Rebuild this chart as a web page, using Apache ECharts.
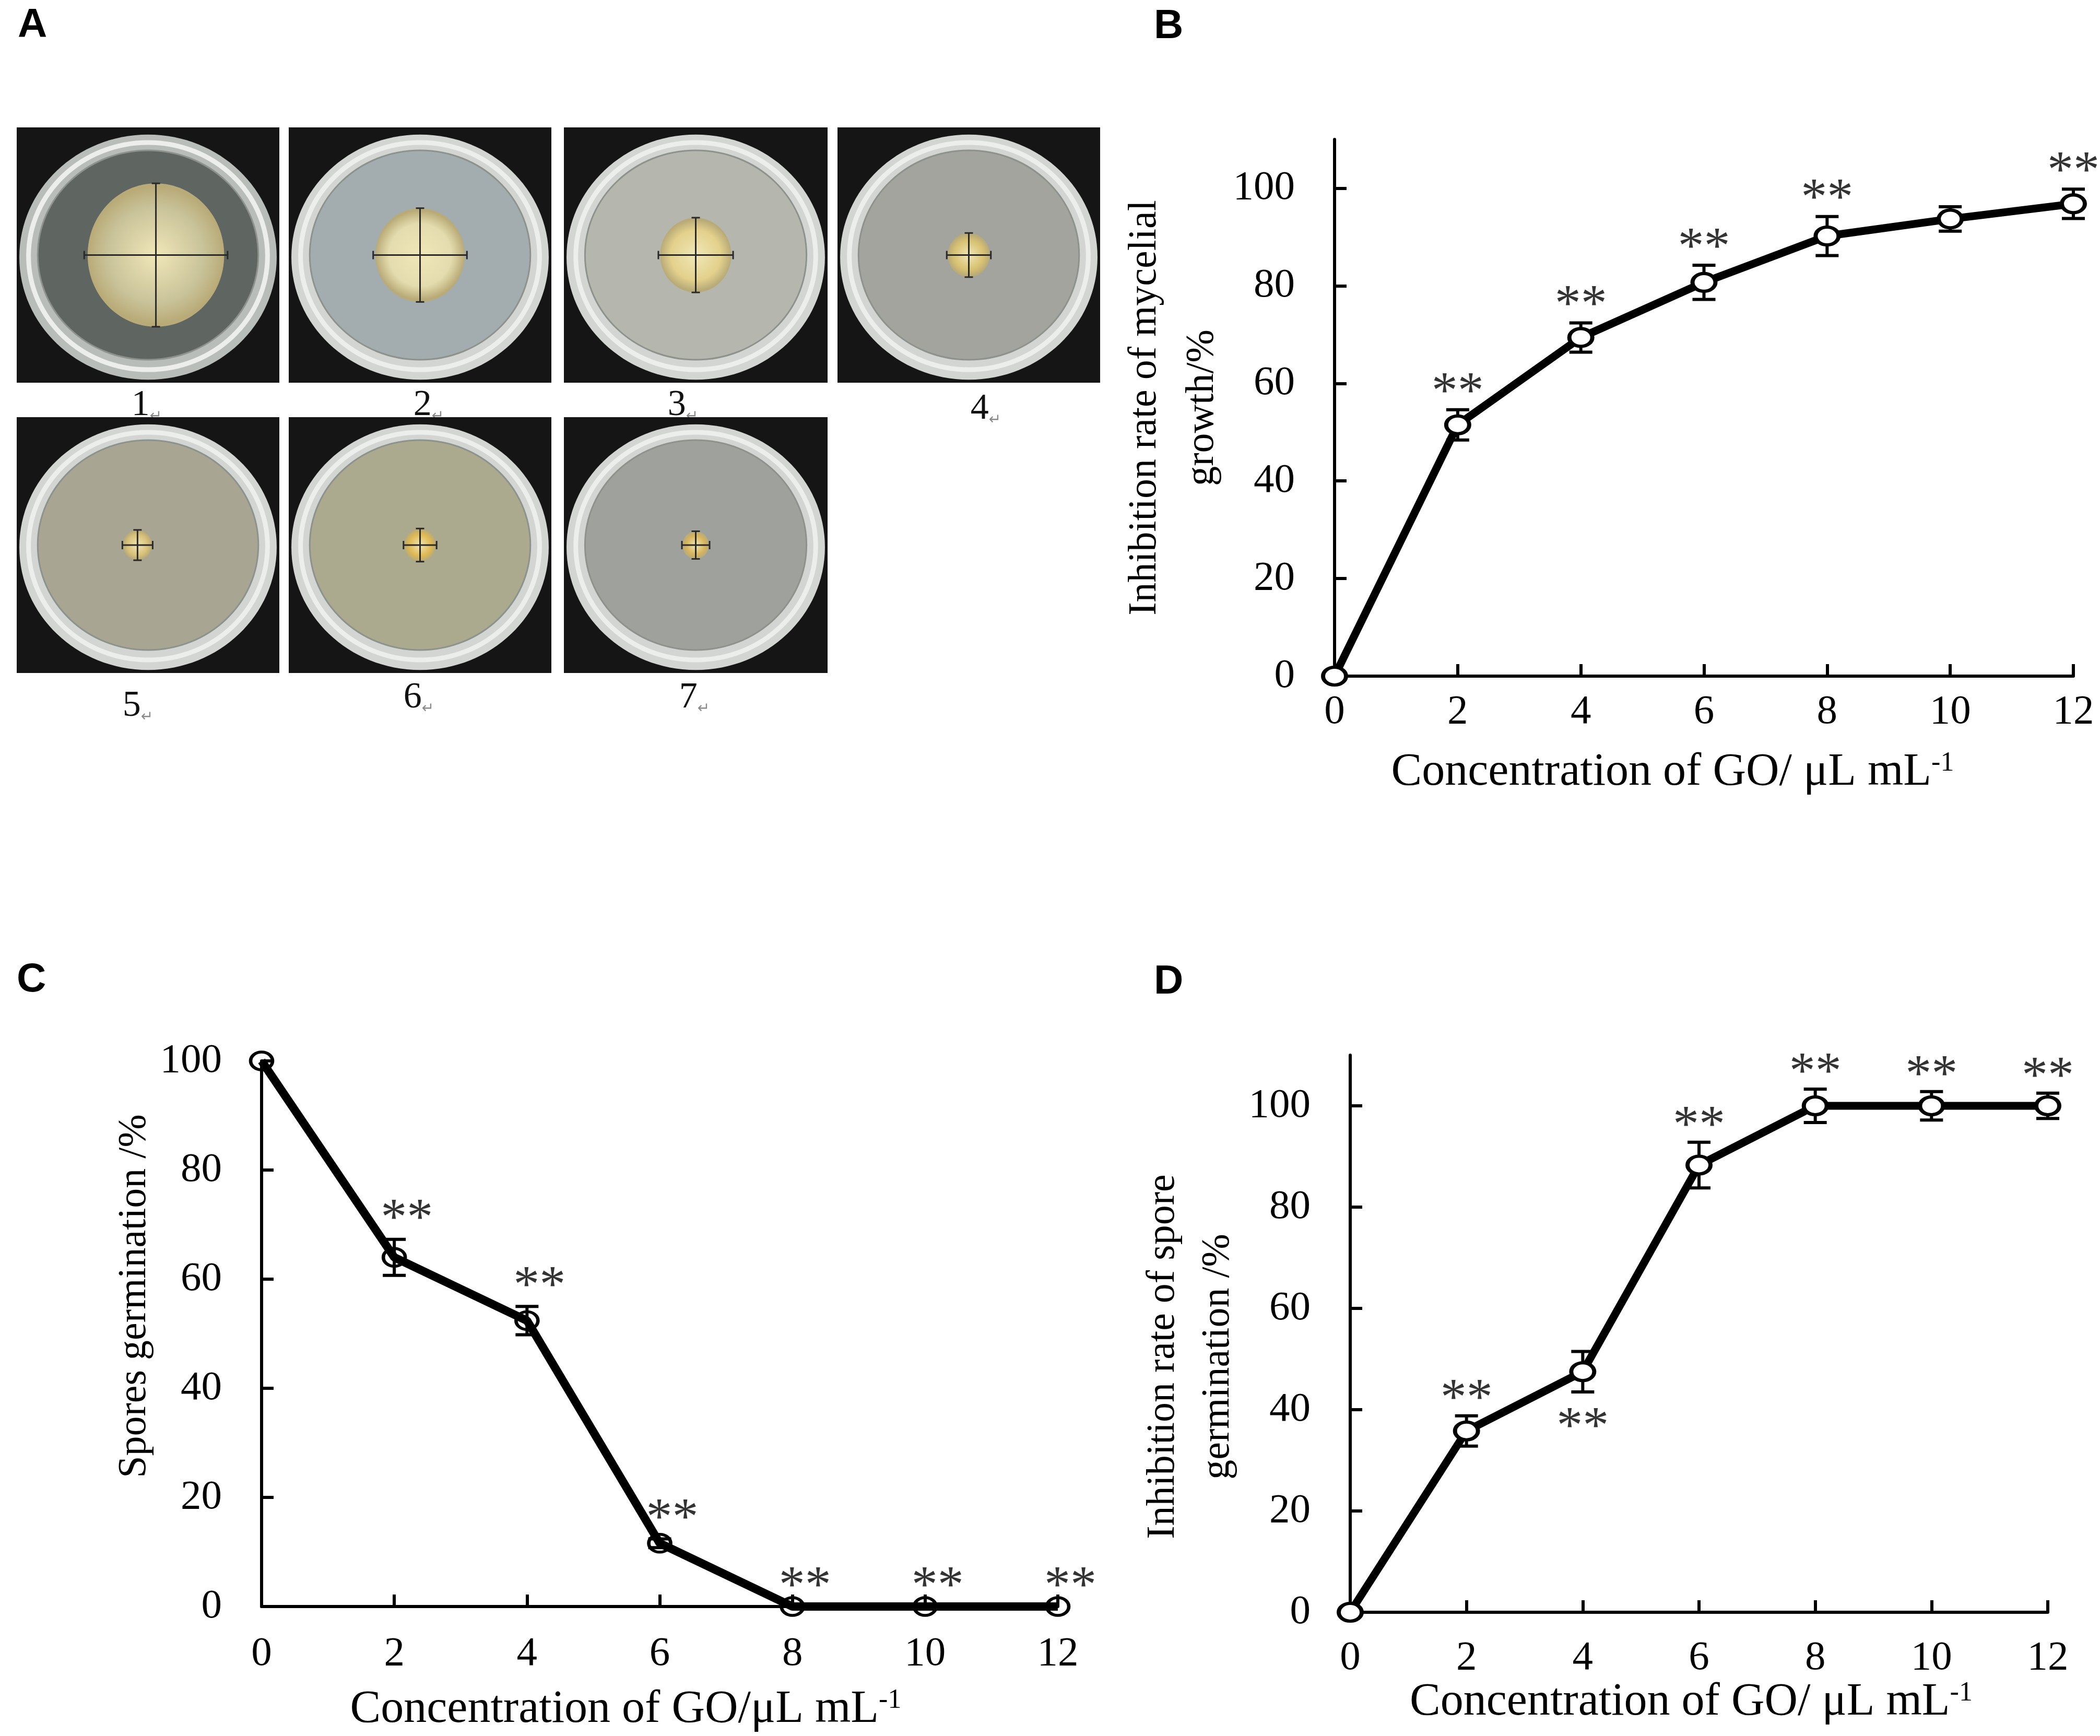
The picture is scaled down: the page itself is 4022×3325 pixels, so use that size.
<!DOCTYPE html>
<html>
<head>
<meta charset="utf-8">
<title>GO inhibition of mycelial growth and spore germination</title>
<script src="https://cdn.jsdelivr.net/npm/echarts@6/dist/echarts.min.js"></script>
<style>
  html, body { margin: 0; padding: 0; background: #fff; }
  #main { width: 4022px; height: 3325px; }
</style>
</head>
<body>
<div id="main"></div>
<script>
// ---- data ----
var conc = [0, 2, 4, 6, 8, 10, 12];            // GO, uL/mL
var yTicks = [0, 20, 40, 60, 80, 100];

// B: inhibition rate of mycelial growth (%)
var mycelialInhibition = [0, 51.5, 69.4, 80.7, 90.2, 93.7, 96.8];
var mycelialSD = [0, 3.1, 3.0, 3.5, 4.0, 2.5, 3.0];
var mycelialMark = ['', '**', '**', '**', '**', '', '**'];

// C: spores germination (%)
var sporeGermination = [100, 64.0, 52.4, 11.6, 0, 0, 0];
var sporeGerminationSD = [0, 3.3, 2.6, 0.8, 0, 0, 0];
var sporeGerminationMark = ['', '**', '**', '**', '**', '**', '**'];

// D: inhibition rate of spore germination (%)
var sporeInhibition = [0, 35.8, 47.5, 88.3, 100, 100, 100];
var sporeInhibitionSD = [0, 3.0, 4.0, 4.5, 3.3, 2.8, 2.5];
var sporeInhibitionMark = ['', '**', '**', '**', '**', '**', '**'];
var sporeInhibitionMarkBelow = [4]; // concentration where ** sits under the point

// A: plates 1-7, colony diameter as a share of the photo width
var plateNames = ['1', '2', '3', '4', '5', '6', '7'];
var colonyDiameter = [0.52, 0.34, 0.27, 0.16, 0.11, 0.12, 0.10];

// ---- layout / style ----
var SERIF = '"Liberation Serif", "Times New Roman", serif';
var SANS = '"Liberation Sans", Arial, sans-serif';
var plateBox = [
    [32, 244, 503, 489], [553, 244, 503, 489], [1080, 244, 505, 489], [1604, 244, 503, 489],
    [32, 799, 503, 490], [553, 799, 503, 490], [1080, 799, 505, 490]
];
var plateLabelAt = [[281, 777], [821, 777], [1308, 777], [1888, 784], [264, 1353], [802, 1337], [1330, 1337]];
var agarColor = ['#5f6661', '#a3adb0', '#b5b6ae', '#a2a49d', '#a8a692', '#aba98e', '#9fa19c'];
var colonyColor = ['#c9c39a', '#e4dcae', '#e3d18c', '#d8c272', '#d9c27a', '#e0b952', '#d8b55c'];
var colonyShift = [0.03, 0, 0, 0, -0.04, 0, 0];

var chart = echarts.init(document.getElementById('main'), null, { renderer: 'canvas' });

function pairs(vals) {
    return conc.map(function (c, i) { return [c, vals[i]]; });
}
function errorData(vals, sd) {
    var out = [];
    conc.forEach(function (c, i) {
        if (sd[i] > 0) out.push([c, vals[i] - sd[i], vals[i] + sd[i]]);
    });
    return out;
}
function markData(vals, sd, mark, below) {
    var out = [];
    conc.forEach(function (c, i) {
        if (!mark[i]) return;
        var under = below && below.indexOf(c) >= 0;
        var item = { name: mark[i], value: [c, under ? vals[i] - sd[i] : vals[i] + sd[i]] };
        if (under) item.label = { position: 'bottom', distance: 19 };
        out.push(item);
    });
    return out;
}

function errorBarItem(params, api) {
    var x = api.value(0);
    var top = api.coord([x, api.value(2)]);
    var bot = api.coord([x, api.value(1)]);
    var half = 22;
    var st = { stroke: '#000', lineWidth: 6 };
    return {
        type: 'group',
        children: [
            { type: 'line', shape: { x1: top[0], y1: top[1], x2: bot[0], y2: bot[1] }, style: st },
            { type: 'line', shape: { x1: top[0] - half, y1: top[1], x2: top[0] + half, y2: top[1] }, style: st },
            { type: 'line', shape: { x1: bot[0] - half, y1: bot[1], x2: bot[0] + half, y2: bot[1] }, style: st }
        ]
    };
}

function makeX(gi, name, gap, shift, margin) {
    return {
        type: 'value', gridIndex: gi, min: 0, max: 12, interval: 2,
        name: name, nameLocation: 'middle', nameGap: gap,
        nameTextStyle: {
            fontFamily: SERIF, fontSize: 88, color: '#000', lineHeight: 88,
            padding: [0, shift, 0, 0],
            rich: { sup: { fontFamily: SERIF, fontSize: 52, lineHeight: 52, color: '#000', verticalAlign: 'top' } }
        },
        axisLine: { show: true, onZero: false, lineStyle: { color: '#000', width: 6 } },
        axisTick: { show: true, inside: true, length: 23, lineStyle: { color: '#000', width: 6 } },
        axisLabel: { fontFamily: SERIF, fontSize: 79, color: '#000', margin: margin, lineHeight: 79 },
        splitLine: { show: false }
    };
}
function makeY(gi, max, name, gap, lineH, pad) {
    return {
        type: 'value', gridIndex: gi, min: 0, max: max, interval: 20,
        name: name, nameLocation: 'middle', nameRotate: 90, nameGap: gap,
        nameTextStyle: { fontFamily: SERIF, fontSize: 76, color: '#000', lineHeight: lineH, padding: pad, align: 'center' },
        axisLine: { show: true, onZero: false, lineStyle: { color: '#000', width: 6 } },
        axisTick: { show: true, inside: true, length: 23, customValues: yTicks, lineStyle: { color: '#000', width: 6 } },
        axisLabel: { customValues: yTicks, fontFamily: SERIF, fontSize: 79, color: '#000', margin: 76 },
        splitLine: { show: false }
    };
}

function lineSeries(gi, vals, size, fill, border, width) {
    return {
        type: 'line', xAxisIndex: gi, yAxisIndex: gi, data: pairs(vals),
        symbol: 'circle', symbolSize: size, showAllSymbol: true, clip: false, z: 3,
        itemStyle: { color: fill, borderColor: '#000', borderWidth: border },
        lineStyle: { color: '#000', width: width },
        silent: true
    };
}
function errorSeries(gi, vals, sd) {
    return {
        type: 'custom', xAxisIndex: gi, yAxisIndex: gi, renderItem: errorBarItem,
        data: errorData(vals, sd), encode: { x: 0, y: [1, 2] }, clip: false, z: 2, silent: true
    };
}
function markSeries(gi, vals, sd, mark, below, dx, dist) {
    return {
        type: 'scatter', xAxisIndex: gi, yAxisIndex: gi, symbolSize: 1, z: 5, silent: true,
        itemStyle: { color: 'rgba(0,0,0,0)' },
        label: {
            show: true, formatter: '{b}', position: 'top', distance: dist, offset: [dx, 0],
            fontFamily: SERIF, fontSize: 100, lineHeight: 100, color: '#000'
        },
        data: markData(vals, sd, mark, below)
    };
}

// ---- panel A: drawn plates ----
function plateGraphics() {
    var els = [];
    plateBox.forEach(function (b, i) {
        var x = b[0], y = b[1], w = b[2], h = b[3];
        var cx = x + w / 2, cy = y + h / 2;
        els.push({ type: 'rect', shape: { x: x, y: y, width: w, height: h }, style: { fill: '#151515' } });
        els.push({ type: 'ellipse', shape: { cx: cx, cy: cy + 4, rx: w * 0.49, ry: h * 0.48 },
            style: { fill: i === 0 ? '#b8bdb9' : '#d2d5d1' } });
        els.push({ type: 'ellipse', shape: { cx: cx, cy: cy + 2, rx: w * 0.455, ry: h * 0.445 },
            style: { fill: 'none', stroke: '#eceeeb', lineWidth: 9 } });
        els.push({ type: 'ellipse', shape: { cx: cx, cy: cy, rx: w * 0.42, ry: h * 0.41 },
            style: { fill: agarColor[i], stroke: '#8e928d', lineWidth: 3 } });
        var r = colonyDiameter[i] * w / 2;
        var ccx = cx + colonyShift[i] * w, ccy = cy;
        els.push({ type: 'ellipse', shape: { cx: ccx, cy: ccy, rx: r, ry: r * 1.05 },
            style: {
                fill: {
                    type: 'radial', x: 0.5, y: 0.5, r: 0.5,
                    colorStops: [{ offset: 0, color: '#f0e7b8' }, { offset: 0.7, color: colonyColor[i] }, { offset: 1, color: '#b9ab78' }]
                }
            } });
        var ln = { stroke: '#2a2a2a', lineWidth: 3 };
        var e = r * 1.05, cap = 8;
        els.push({ type: 'line', shape: { x1: ccx - e, y1: ccy, x2: ccx + e, y2: ccy }, style: ln });
        els.push({ type: 'line', shape: { x1: ccx, y1: ccy - e, x2: ccx, y2: ccy + e }, style: ln });
        els.push({ type: 'line', shape: { x1: ccx - e, y1: ccy - cap, x2: ccx - e, y2: ccy + cap }, style: ln });
        els.push({ type: 'line', shape: { x1: ccx + e, y1: ccy - cap, x2: ccx + e, y2: ccy + cap }, style: ln });
        els.push({ type: 'line', shape: { x1: ccx - cap, y1: ccy - e, x2: ccx + cap, y2: ccy - e }, style: ln });
        els.push({ type: 'line', shape: { x1: ccx - cap, y1: ccy + e, x2: ccx + cap, y2: ccy + e }, style: ln });
        els.push({
            type: 'text', x: plateLabelAt[i][0], y: plateLabelAt[i][1],
            style: {
                text: '{d|' + plateNames[i] + '}{r|\u21b5}', align: 'center', verticalAlign: 'middle',
                rich: {
                    d: { fontFamily: SERIF, fontSize: 70, fill: '#111' },
                    r: { fontFamily: '"DejaVu Sans", sans-serif', fontSize: 28, fill: '#8a8a8a', verticalAlign: 'bottom', padding: [16, 0, 0, 0] }
                }
            }
        });
    });
    return els;
}
function panelLetter(t, x, y) {
    return { type: 'text', x: x, y: y,
        style: { text: t, fontFamily: SANS, fontWeight: 'bold', fontSize: 78, fill: '#000', align: 'left', verticalAlign: 'top' } };
}

var option = {
    backgroundColor: '#fff',
    animation: false,
    grid: [
        { left: 2556, top: 267, width: 1415, height: 1028, outerBoundsMode: 'none' },
        { left: 501, top: 2032, width: 1525, height: 1045, outerBoundsMode: 'none' },
        { left: 2586, top: 2021, width: 1336, height: 1067, outerBoundsMode: 'none' }
    ],
    xAxis: [
        makeX(0, 'Concentration of GO/ \u03bcL mL{sup|-1}', 141, 120, 30),
        makeX(1, 'Concentration of GO/\u03bcL mL{sup|-1}', 154, 130, 52),
        makeX(2, 'Concentration of GO/ \u03bcL mL{sup|-1}', 116, 30, 49)
    ],
    yAxis: [
        makeY(0, 110, 'Inhibition rate of mycelial\ngrowth/%', 185, 110, [0, 0, 0, 0]),
        makeY(1, 100, 'Spores germination /%', 178, 90, [0, 0, 0, 144]),
        makeY(2, 110, 'Inhibition rate of spore\ngermination /%', 200, 105, [0, 88, 0, 0])
    ],
    series: [
        errorSeries(0, mycelialInhibition, mycelialSD),
        lineSeries(0, mycelialInhibition, [44, 34], '#fff', 7, 15),
        markSeries(0, mycelialInhibition, mycelialSD, mycelialMark, null, 0, -19),

        errorSeries(1, sporeGermination, sporeGerminationSD),
        lineSeries(1, sporeGermination, [42, 34], 'rgba(255,255,255,0)', 6, 16),
        markSeries(1, sporeGermination, sporeGerminationSD, sporeGerminationMark, null, 24, -14),

        errorSeries(2, sporeInhibition, sporeInhibitionSD),
        lineSeries(2, sporeInhibition, [44, 34], '#fff', 7, 15),
        markSeries(2, sporeInhibition, sporeInhibitionSD, sporeInhibitionMark, sporeInhibitionMarkBelow, 0, -21)
    ],
    graphic: plateGraphics().concat([
        panelLetter('A', 34, 10),
        panelLetter('B', 2210, 12),
        panelLetter('C', 32, 1838),
        panelLetter('D', 2210, 1842)
    ])
};
chart.setOption(option);
</script>
</body>
</html>
